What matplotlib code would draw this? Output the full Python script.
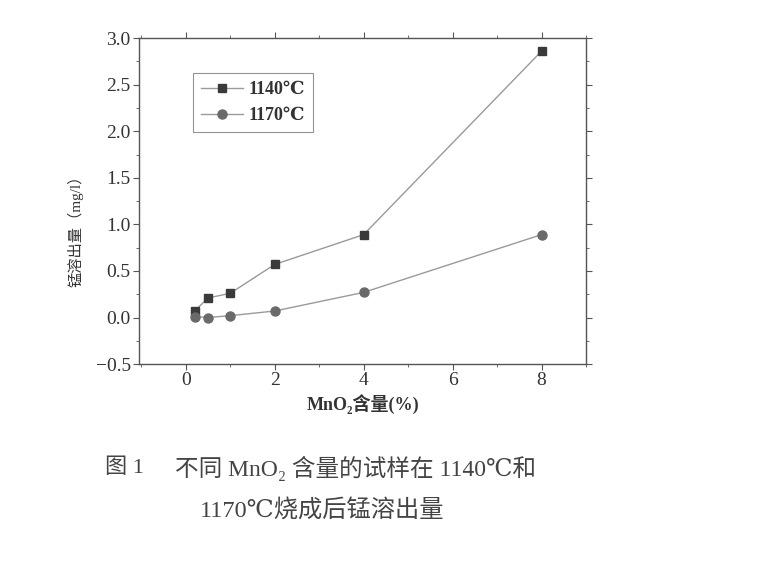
import matplotlib
matplotlib.use("Agg")
import matplotlib.pyplot as plt
from matplotlib.ticker import MultipleLocator

plt.rcParams['font.family'] = ['Liberation Serif', 'DejaVu Serif', 'Noto Sans CJK SC']
plt.rcParams['axes.unicode_minus'] = True

# MnO2 content (%) and Mn leaching (mg/l)
mno2 = [0.2, 0.5, 1, 2, 4, 8]
mn_1140 = [0.07, 0.21, 0.26, 0.57, 0.89, 2.86]
mn_1170 = [0.01, 0.0, 0.02, 0.07, 0.27, 0.89]
labels = ['1140℃', '1170℃']
yticks = [-0.5, 0, 0.5, 1.0, 1.5, 2.0, 2.5, 3.0]
ytick_labels = ['\u22120.5', '0.0', '0.5', '1.0', '1.5', '2.0', '2.5', '3.0']

ink = '#3a3a3a'
line_c = '#9a9a9a'

fig = plt.figure(figsize=(7.64, 5.61), dpi=100)
ax = fig.add_axes([0.182, 0.351, 0.585, 0.581])

ax.plot(mno2, mn_1140, color=line_c, lw=1.0, marker='s', ms=6,
        mfc=ink, mec=ink, label=labels[0])
ax.plot(mno2, mn_1170, color=line_c, lw=1.0, marker='o', ms=6.5,
        mfc='#6a6a6a', mec='#6a6a6a', label=labels[1])

ax.set_xlim(-1.05, 9.0)
ax.set_ylim(-0.5, 3.0)
ax.xaxis.set_major_locator(MultipleLocator(2))
ax.xaxis.set_minor_locator(MultipleLocator(1))
ax.yaxis.set_minor_locator(MultipleLocator(0.25))
ax.set_yticks(yticks)
ax.set_yticklabels(ytick_labels)

for s in ax.spines.values():
    s.set_color('#555555')
    s.set_linewidth(1.0)
ax.tick_params(which='both', colors='#555555', labelcolor='#333333',
               labelsize=14, top=True, right=True, pad=2)
ax.tick_params(which='major', length=4)
ax.tick_params(which='minor', length=2.5)

ax.set_xlabel('MnO₂含量(%)', fontsize=13, color='#333333', fontweight='bold',
              labelpad=3)
ax.set_ylabel('锰溶出量（mg/l）', fontsize=11, color='#333333')
ax.yaxis.set_label_coords(-0.125, 0.42)

leg = ax.legend(loc='upper left', bbox_to_anchor=(0.121, 0.893), borderaxespad=0,
                frameon=True, fancybox=False, handlelength=2.3,
                handletextpad=0.3, borderpad=0.45, labelspacing=0.5,
                prop={'weight': 'bold', 'size': 13})
leg.get_frame().set_edgecolor('#777777')
leg.get_frame().set_linewidth(0.8)
for t in leg.get_texts():
    t.set_color('#333333')

cap_c = '#444444'
fig.text(0.137, 0.165, '图 1', fontsize=16, color=cap_c, va='center')
fig.text(0.229, 0.165, '不同 MnO₂ 含量的试样在 1140℃和', fontsize=17,
         color=cap_c, va='center')
fig.text(0.262, 0.09, '1170℃烧成后锰溶出量', fontsize=17.5, color=cap_c,
         va='center')

fig.savefig('out.png', dpi=100)
